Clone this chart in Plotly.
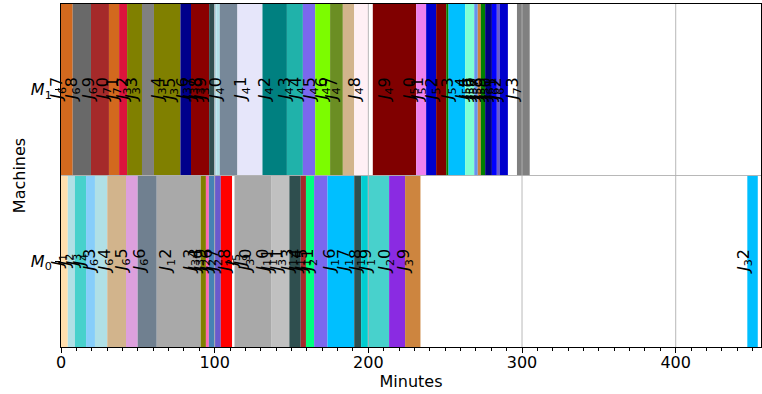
import plotly.graph_objects as go

# ---------------- data ----------------
X_MAX = 455.5
X_TICKS = [0, 100, 200, 300, 400]
MACHINE_ROWS = [0, 1]
MACHINE_NAMES = ["<i>M</i><sub>0</sub>", "<i>M</i><sub>1</sub>"]

# Machine M1: visible bar segments (minutes)
m1_start = [0, 7.6, 19.5, 31.2, 37.8, 43.0, 52.7, 60.5, 77.7, 84.6, 96.4, 99.8, 101.1,
            103.3, 114.8, 131.1, 147.0, 157.4, 165.4, 175.1, 183.4, 190.8, 202.9, 231.1,
            237.6, 244.1, 250.7, 252.2, 263.0, 268.9, 271.2, 273.2, 276.0, 280.4, 283.6,
            285.4, 296.7]
m1_end = [7.6, 19.5, 31.2, 37.8, 43.0, 52.7, 60.5, 77.7, 84.6, 96.4, 99.8, 101.1, 103.3,
          114.8, 131.1, 147.0, 157.4, 165.4, 175.1, 183.4, 190.8, 200.0, 231.1, 237.6,
          244.1, 250.7, 252.2, 263.0, 268.9, 271.2, 273.2, 276.0, 280.4, 283.6, 285.4,
          290.8, 305.0]
m1_color = ["#D2691E", "#696969", "#A52A2A", "#D2691E", "#DC143C", "#808000", "#808080",
            "#808000", "#00008B", "#8B0000", "#2F4F4F", "#ADD8E6", "#B0E0E6", "#778899",
            "#E6E6FA", "#008080", "#20B2AA", "#7B68EE", "#7CFC00", "#6B8E23", "#D2B48C",
            "#FFF0F5", "#800000", "#EE82EE", "#0000CD", "#800000", "#008000", "#00BFFF",
            "#7FFFD4", "#6495ED", "#CD853F", "#008000", "#000080", "#0000FF", "#6A5ACD",
            "#0000CD", "#808080"]

# Machine M0: visible bar segments (minutes)
m0_start = [0, 4.4, 9.1, 16.3, 22.1, 30.1, 42.3, 49.9, 62.3, 90.9, 94.3, 96.2, 100.0,
            104.0, 112.9, 136.7, 148.6, 156.0, 159.4, 164.7, 173.4, 190.8, 195.3, 199.7,
            213.5, 223.9, 446.6]
m0_end = [4.4, 9.1, 16.3, 22.1, 30.1, 42.3, 49.9, 62.3, 90.9, 94.3, 96.2, 100.0, 104.0,
          111.3, 136.7, 148.6, 156.0, 159.4, 164.7, 173.4, 190.8, 195.3, 199.7, 213.5,
          223.9, 233.9, 453.4]
m0_color = ["#FFDEAD", "#B0E0E6", "#48D1CC", "#87CEFA", "#B0E0E6", "#D2B48C", "#DDA0DD",
            "#708090", "#A9A9A9", "#808000", "#FF69B4", "#4682B4", "#6A5ACD", "#FF0000",
            "#A9A9A9", "#C0C0C0", "#2F4F4F", "#A52A2A", "#00FF7F", "#7B68EE", "#00BFFF",
            "#2F4F4F", "#00CED1", "#48D1CC", "#8A2BE2", "#CD853F", "#00BFFF"]

# Job labels (job number, x position in minutes)
m1_label_job = [67, 68, 69, 70, 71, 32, 33, 34, 35, 36, 37, 38, 39, 40, 41, 42, 43, 44, 45,
                46, 47, 48, 49, 50, 51, 52, 53, 54, 55, 56, 57, 58, 59, 60, 61, 62, 73]
m1_label_x = [-1.95, 7.4, 18.4, 27.5, 34.1, 40.6, 46.4, 63.4, 71.5, 79.6, 84.2, 88.1, 91.4,
              101.1, 117.9, 133.0, 146.0, 153.7, 162.3, 170.1, 176.7, 191.6, 211.2, 227.4,
              232.6, 241.8, 252.2, 261.3, 263.9, 265.8, 268.5, 271.1, 273.7, 276.9, 280.2,
              283.5, 294.5]
m0_label_job = [1, 2, 3, 4, 63, 64, 65, 66, 12, 33, 34, 29, 26, 27, 28, 5, 9, 30, 10, 11,
                31, 13, 14, 15, 21, 16, 17, 18, 19, 20, 39, 32]
m0_label_x = [-1.6, 2.8, 8.0, 12.6, 19.1, 28.8, 39.7, 51.6, 68.6, 84.2, 87.5, 91.4, 95.3,
              99.2, 107.0, 111.5, 117.4, 120.6, 131.7, 135.0, 140.9, 148.0, 153.2, 157.1,
              161.0, 175.3, 184.5, 192.3, 198.8, 211.2, 223.6, 444.3]

FONT = "DejaVu Sans"
W, H = 762, 394
ML, MR, MT, MB = 61, 1, 4, 47


def job_text(n):
    # mimics matplotlib mathtext "$J_{n}$" -> first digit subscripted
    s = str(n)
    return f"<i>J</i><sub>{s[0]}</sub>{s[1:]}"


fig = go.Figure()
for row, starts, ends, colors in [(1, m1_start, m1_end, m1_color),
                                  (0, m0_start, m0_end, m0_color)]:
    fig.add_trace(go.Bar(
        orientation="h",
        y=[row] * len(starts),
        base=starts,
        x=[e - s for s, e in zip(starts, ends)],
        width=1,
        marker=dict(color=colors, line=dict(width=0)),
        hoverinfo="skip",
        showlegend=False,
    ))

px_per_min = (W - ML - MR) / X_MAX
annotations = []
for row, jobs, xs in [(1, m1_label_job, m1_label_x), (0, m0_label_job, m0_label_x)]:
    for j, x in zip(jobs, xs):
        annotations.append(dict(
            x=max(x, 0), y=row, xref="x", yref="y",
            xshift=min(x, 0) * px_per_min,
            text=job_text(j), textangle=-90, showarrow=False,
            font=dict(family=FONT, size=16, color="black"),
        ))

shapes = []
for t in X_TICKS[1:]:
    shapes.append(dict(type="line", xref="x", yref="paper", x0=t, x1=t, y0=0, y1=1,
                       layer="above", line=dict(color="#b0b0b0", width=0.9)))
shapes.append(dict(type="line", xref="paper", yref="y", x0=0, x1=1, y0=0.5, y1=0.5,
                   layer="above", line=dict(color="#b0b0b0", width=0.9)))

fig.update_layout(
    width=W, height=H,
    margin=dict(l=ML, r=MR, t=MT, b=MB),
    paper_bgcolor="white", plot_bgcolor="white",
    barmode="overlay",
    font=dict(family=FONT, size=16, color="black"),
    annotations=annotations,
    shapes=shapes,
    xaxis=dict(
        range=[0, X_MAX], tickvals=X_TICKS, ticks="outside", ticklen=5, tickwidth=1,
        tickcolor="black", showline=True, linecolor="black", linewidth=1, mirror=True,
        showgrid=False, zeroline=False, ticklabelstandoff=-4,
        minor=dict(dtick=10, tick0=0, ticks="outside", ticklen=3, tickcolor="black",
                   showgrid=False),
        title=dict(text="Minutes", standoff=4, font=dict(size=16)),
        tickfont=dict(size=16),
    ),
    yaxis=dict(
        range=[-0.5, 1.5], tickvals=MACHINE_ROWS, ticktext=MACHINE_NAMES,
        ticks="outside", ticklen=5, tickwidth=1, tickcolor="black",
        showline=True, linecolor="black", linewidth=1, mirror=True,
        showgrid=False, zeroline=False,
        title=dict(text="Machines", standoff=1, font=dict(size=16)),
        tickfont=dict(size=16),
    ),
)

fig.write_html("out.html")
